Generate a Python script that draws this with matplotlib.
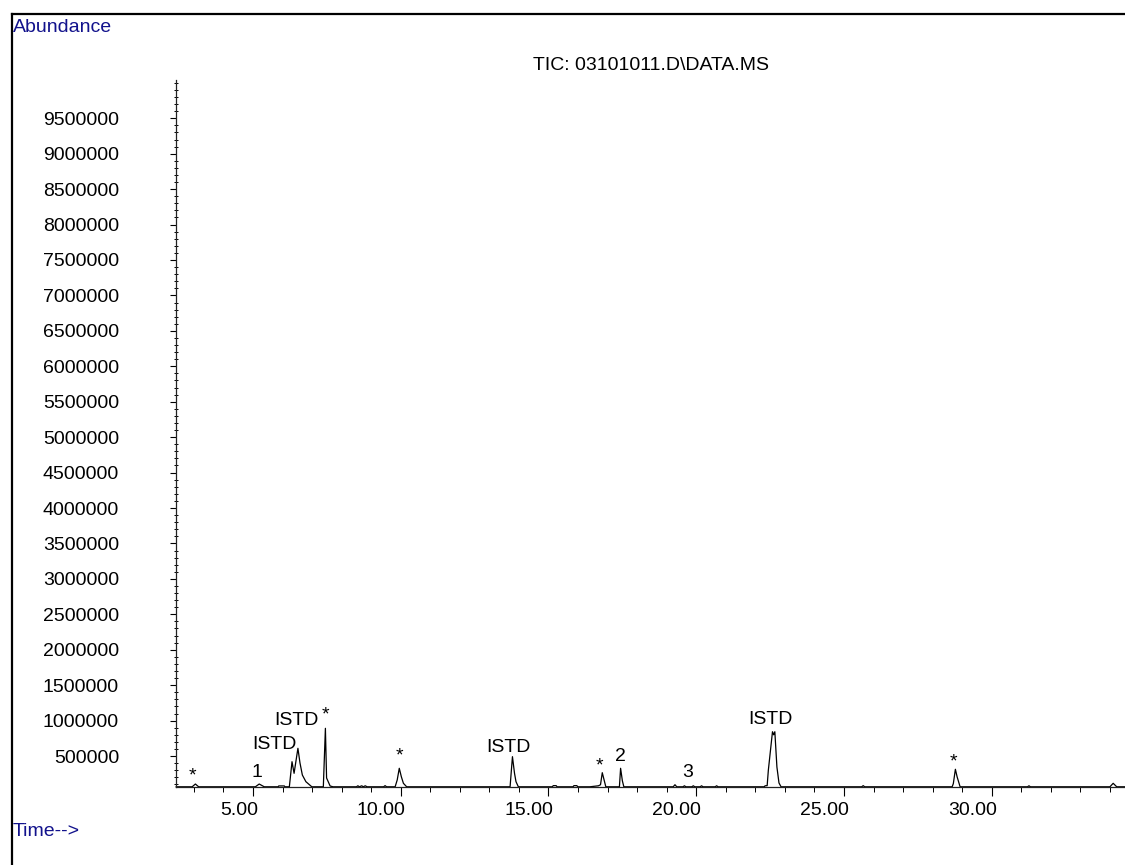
import numpy as np
import matplotlib.pyplot as plt
from matplotlib.lines import Line2D
from matplotlib.ticker import MultipleLocator, FixedLocator
from matplotlib.transforms import ScaledTranslation

plt.rcParams['font.family'] = ['Liberation Sans', 'DejaVu Sans']

# TIC trace: retention time [min] vs abundance
rt_min = [2.40,
          2.94, 3.05, 3.16,
          5.08, 5.21, 5.38,
          5.85, 5.87, 6.06, 6.08,
          6.23, 6.32, 6.39, 6.52, 6.59, 6.67, 6.79, 6.99,
          7.38, 7.45, 7.49, 7.61, 7.71,
          8.50, 8.55, 8.60, 8.68, 8.73, 8.80, 8.86,
          9.42, 9.47, 9.52,
          9.81, 9.88, 9.95, 10.02, 10.09, 10.20,
          13.70, 13.78, 13.85, 13.90, 13.98,
          15.13, 15.16, 15.26, 15.29,
          15.83, 15.86, 15.96, 15.99,
          16.40, 16.69, 16.76, 16.82, 16.88, 16.94,
          17.40, 17.44, 17.50, 17.55,
          19.22, 19.28, 19.34,
          19.55, 19.60, 19.65,
          19.85, 19.90, 19.95,
          20.13, 20.18, 20.23,
          20.64, 20.69, 20.74,
          22.30, 22.33, 22.40, 22.44, 22.58, 22.62, 22.66, 22.73, 22.80, 22.87,
          25.60, 25.65, 25.70,
          28.66, 28.70, 28.77, 28.83, 28.93,
          31.21, 31.26, 31.31,
          34.00, 34.11, 34.23,
          34.51]
abundance = [66000,
             66000, 105000, 66000,
             66000, 105000, 66000,
             66000, 78000, 78000, 66000,
             66000, 420000, 256000, 609000, 402000, 232000, 138000, 66000,
             66000, 891000, 190000, 77000, 66000,
             66000, 80000, 66000, 80000, 66000, 80000, 66000,
             66000, 82000, 66000,
             66000, 162000, 327000, 208000, 115000, 66000,
             66000, 491000, 256000, 138000, 66000,
             66000, 82000, 82000, 66000,
             66000, 82000, 82000, 66000,
             66000, 80000, 95000, 265000, 165000, 66000,
             66000, 327000, 150000, 66000,
             66000, 95000, 66000,
             66000, 80000, 66000,
             66000, 80000, 66000,
             66000, 80000, 66000,
             66000, 80000, 66000,
             66000, 80000, 82000, 300000, 843000, 800000, 843000, 345000, 120000, 66000,
             66000, 82000, 66000,
             66000, 110000, 313000, 204000, 66000,
             66000, 80000, 66000,
             66000, 115000, 66000,
             66000]

# peak annotations (text, time, baseline abundance)
peak_text = ['*', '1', 'ISTD', 'ISTD', '*', '*', 'ISTD', '*', '2', '3', 'ISTD', '*']
peak_rt = [2.95, 5.14, 5.71, 6.48, 7.45, 9.94, 13.66, 16.72, 17.42, 19.71, 22.50, 28.72]
peak_y = [149000, 211000, 606000, 940000, 1010000, 441000, 550000, 300000,
          423000, 211000, 955000, 347000]

y_ticks = np.arange(500000, 9500001, 500000)
x_ticks = [5, 10, 15, 20, 25, 30]

fs = 14

fig = plt.figure(figsize=(11.25, 8.65), dpi=100)
ax = fig.add_axes([176/1125, 78/865, 949/1125, 707/865])

ax.plot(rt_min, abundance, color='black', lw=0.9, clip_on=False)
ax.set_xlim(2.394, 34.51)
ax.set_ylim(63000, 10040000)

for s in ['top', 'right']:
    ax.spines[s].set_visible(False)
for s in ['left', 'bottom']:
    ax.spines[s].set_linewidth(0.9)
    ax.spines[s].set_color('#222222')

ax.yaxis.set_major_locator(FixedLocator(y_ticks))
ax.yaxis.set_minor_locator(MultipleLocator(100000))
ax.set_yticklabels([str(v) for v in y_ticks])
ax.xaxis.set_major_locator(FixedLocator(x_ticks))
ax.xaxis.set_minor_locator(MultipleLocator(1))
ax.set_xticklabels(['%.2f' % v for v in x_ticks])

ax.tick_params(axis='y', which='major', direction='out', length=4, width=0.8,
               pad=37, labelsize=fs)
ax.tick_params(axis='y', which='minor', direction='inout', length=3, width=0.7)
ax.tick_params(axis='x', which='major', direction='out', length=6.5, width=0.8,
               pad=4, labelsize=fs)
ax.tick_params(axis='x', which='minor', direction='out', length=3.5, width=0.7)

for lab in ax.get_xticklabels():
    lab.set_horizontalalignment('right')
    lab.set_transform(lab.get_transform() + ScaledTranslation(5/100, 0, fig.dpi_scale_trans))

for txt, t, y in zip(peak_text, peak_rt, peak_y):
    ax.text(t, y, txt, ha='center', va='baseline', fontsize=fs)

fig.text(651/1125, 1 - 65/865, 'TIC: 03101011.D\\DATA.MS', ha='center', va='center',
         fontsize=fs)
fig.text(13/1125, 1 - 27/865, 'Abundance', ha='left', va='center', fontsize=fs,
         color='#12128c')
fig.text(13/1125, 1 - 832/865, 'Time-->', ha='left', va='center', fontsize=fs,
         color='#12128c')

# window frame
fig.add_artist(Line2D([12/1125, 1], [1 - 14/865, 1 - 14/865], color='black', lw=1.6))
fig.add_artist(Line2D([12/1125, 12/1125], [0, 1 - 14/865], color='black', lw=1.6))

plt.savefig('out.png', dpi=100)
